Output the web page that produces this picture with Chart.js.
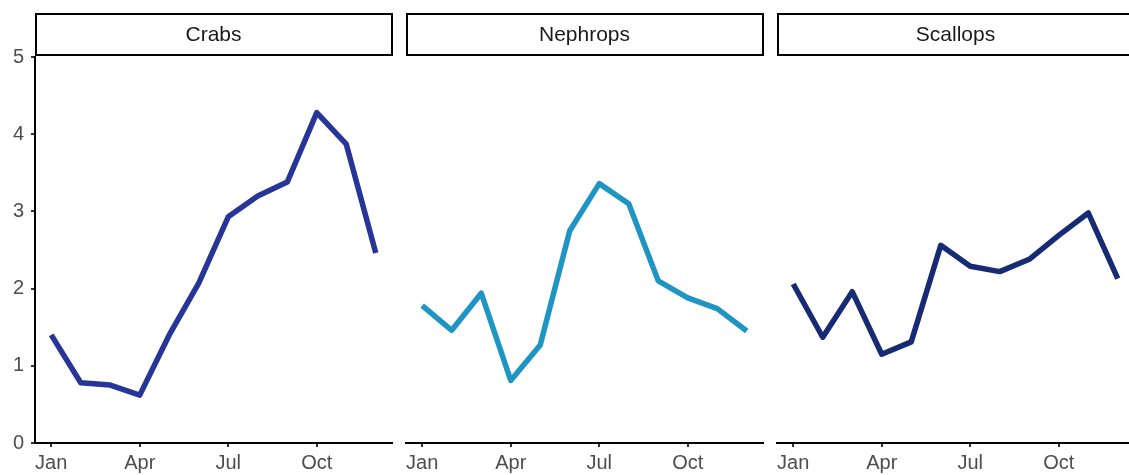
<!DOCTYPE html>
<html>
<head>
<meta charset="utf-8">
<script src="https://cdn.jsdelivr.net/npm/chart.js@4.4.1/dist/chart.umd.min.js"></script>
<style>
  html, body { margin: 0; padding: 0; background: #fff; }
  #wrap { position: relative; width: 1129px; height: 475px; overflow: hidden; background: #fff; }
  #wrap canvas { position: absolute; top: 0; }
</style>
</head>
<body>
<div id="wrap">
  <canvas id="p0" width="400" height="475" style="left:0px"></canvas>
  <canvas id="p1" width="373" height="475" style="left:398px"></canvas>
  <canvas id="p2" width="373" height="475" style="left:769px"></canvas>
</div>
<script>
// Monthly values per fishery
const months = ['Jan', 'Feb', 'Mar', 'Apr', 'May', 'Jun', 'Jul', 'Aug', 'Sep', 'Oct', 'Nov', 'Dec'];
const xTickMonths = [0, 3, 6, 9];
const yTickValues = [0, 1, 2, 3, 4, 5];

const crabs    = [1.40, 0.78, 0.75, 0.62, 1.40, 2.07, 2.93, 3.20, 3.38, 4.28, 3.87, 2.46];
const nephrops = [1.78, 1.46, 1.94, 0.81, 1.27, 2.75, 3.36, 3.10, 2.10, 1.88, 1.74, 1.45];
const scallops = [2.06, 1.37, 1.96, 1.15, 1.31, 2.56, 2.29, 2.22, 2.38, 2.69, 2.98, 2.13];

const panelNames  = ['Crabs', 'Nephrops', 'Scallops'];
const panelSeries = [crabs, nephrops, scallops];
const panelColors = ['#263597', '#1f95c4', '#162b74'];

const FONT = '"Liberation Sans", Arial, Helvetica, sans-serif';

// Facet header box drawn above each plot area
const stripPlugin = {
  id: 'strip',
  afterDraw(chart, args, opts) {
    const { ctx, chartArea: a } = chart;
    ctx.save();
    ctx.fillStyle = '#ffffff';
    ctx.fillRect(a.left, 13, a.right - a.left, 43);
    ctx.strokeStyle = '#000000';
    ctx.lineWidth = 2;
    ctx.strokeRect(a.left + 1, 14, a.right - a.left - 1, 41);
    ctx.fillStyle = '#1a1a1a';
    ctx.font = '21px ' + FONT;
    ctx.textAlign = 'center';
    ctx.textBaseline = 'middle';
    ctx.fillText(opts.text, (a.left + a.right) / 2, 35);
    ctx.restore();
  }
};

function makePanel(idx) {
  const first = idx === 0;
  const values = panelSeries[idx];
  const points = values.map((v, i) => ({ x: i, y: v }));
  return new Chart(document.getElementById('p' + idx), {
    type: 'line',
    data: {
      datasets: [{
        data: points,
        borderColor: panelColors[idx],
        borderWidth: 5.5,
        borderCapStyle: 'butt',
        borderJoinStyle: 'round',
        pointRadius: 0,
        tension: 0,
        fill: false
      }]
    },
    options: {
      responsive: false,
      animation: false,
      devicePixelRatio: 1,
      layout: { padding: { top: 57, bottom: 0, left: first ? 0 : 8, right: 8 } },
      plugins: {
        legend: { display: false },
        tooltip: { enabled: false },
        title: { display: false },
        strip: { text: panelNames[idx] }
      },
      scales: {
        x: {
          type: 'linear',
          min: -0.55,
          max: 11.55,
          afterBuildTicks: s => { s.ticks = xTickMonths.map(v => ({ value: v })); },
          afterFit: s => { s.height = 32; },
          ticks: {
            callback: v => months[v],
            color: '#4d4d4d',
            font: { size: 20, family: FONT },
            padding: 4,
            autoSkip: false,
            maxRotation: 0
          },
          grid: { display: true, drawOnChartArea: false, drawTicks: true, tickLength: 4, color: '#333333', lineWidth: 2 },
          border: { display: true, color: '#000000', width: 2 }
        },
        y: {
          display: first,
          min: 0,
          max: 5,
          afterBuildTicks: s => { s.ticks = yTickValues.map(v => ({ value: v })); },
          afterFit: s => { if (first) s.width = 35; },
          ticks: {
            color: '#4d4d4d',
            font: { size: 20, family: FONT },
            padding: 7
          },
          grid: { display: true, drawOnChartArea: false, drawTicks: true, tickLength: 4, color: '#333333', lineWidth: 2 },
          border: { display: true, color: '#000000', width: 2 }
        }
      }
    },
    plugins: [stripPlugin]
  });
}

panelNames.forEach((_, i) => makePanel(i));
</script>
</body>
</html>
